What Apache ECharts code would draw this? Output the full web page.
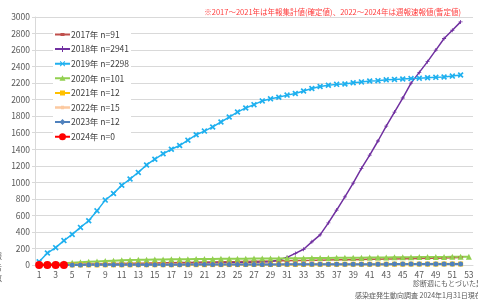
<!DOCTYPE html>
<html>
<head>
<meta charset="UTF-8">
<title>chart</title>
<style>
  html, body { margin: 0; padding: 0; background: #fff; }
  #chart { width: 478px; height: 301px; }
</style>
</head>
<body>
<div id="chart"></div>
<script src="https://cdn.jsdelivr.net/npm/echarts@6/dist/echarts.min.js"></script>
<script>
var weeks = ['1','2','3','4','5','6','7','8','9','10','11','12','13','14','15','16','17','18','19','20',
  '21','22','23','24','25','26','27','28','29','30','31','32','33','34','35','36','37','38','39','40',
  '41','42','43','44','45','46','47','48','49','50','51','52','53'];

var y2017 = [2,3,5,7,8,10,12,13,15,17, 18,20,22,23,25,27,28,30,31,33,
  35,36,38,40,41,43,45,46,48,50, 51,53,55,56,58,60,62,63,65,67,
  69,70,72,74,76,77,79,81,83,85, 88,91];
var y2018 = [1,2,3,4,5,6,7,8,9,10, 11,12,13,14,15,16,17,18,19,20,
  21,23,25,27,29,31,33,36,40,60, 93,140,190,280,365,510,665,825,990,1170,
  1330,1500,1680,1850,2020,2200,2330,2460,2600,2740, 2840,2941];
var y2019 = [40,145,210,295,370,455,535,655,785,865, 965,1040,1120,1210,1280,1345,1400,1445,1510,1575,
  1620,1670,1730,1790,1850,1900,1940,1985,2010,2030, 2055,2075,2105,2135,2160,2175,2185,2190,2205,2215,
  2225,2230,2240,2245,2250,2255,2260,2265,2270,2275, 2285,2298];
var y2020 = [5,10,15,20,26,32,38,43,48,52, 56,59,62,64,66,68,69,70,71,72,
  73,74,75,75,76,77,78,78,79,80, 81,82,83,84,85,86,87,88,88,89,
  90,91,92,93,94,95,96,96,97,98, 99,100,101];
var y2021 = [0,0,0,1,1,1,1,1,2,2, 2,2,3,3,3,3,3,4,4,4,
  4,5,5,5,5,6,6,6,6,7, 7,7,7,8,8,8,8,9,9,9,
  9,10,10,10,10,11,11,11,11,12, 12,12];
var y2022 = [0,1,1,1,1,2,2,2,3,3, 3,3,4,4,4,5,5,5,5,6,
  6,6,7,7,7,7,8,8,8,9, 9,9,9,10,10,10,11,11,11,11,
  12,12,12,13,13,13,13,14,14,14, 15,15];
var y2023 = [0,0,1,1,1,1,2,2,2,2, 3,3,3,3,4,4,4,4,5,5,
  5,5,6,6,6,6,7,7,7,7, 8,8,8,8,9,9,9,9,10,10,
  10,10,10,11,11,11,11,11,12,12, 12,12];
var y2024 = [0,0,0,0];

var names = ['2017年 n=91','2018年 n=2941','2019年 n=2298','2020年 n=101','2021年 n=12','2022年 n=15','2023年 n=12','2024年 n=0'];

var font = '"Noto Sans CJK JP", "Noto Sans", sans-serif';
var plusPath = 'path://M2,0H3V2H5V3H3V5H2V3H0V2H2Z';
var crossPath = 'path://M0,1L1,0L2.5,1.5L4,0L5,1L3.5,2.5L5,4L4,5L2.5,3.5L1,5L0,4L1.5,2.5Z';

// legend icons: line + marker in a 15x9 box
var ln = 'M0,0M15,9M0,3.5H15V5.5H0Z';
var icons = [
  'path://' + ln + 'M5.5,3H9.5V6H5.5Z',
  'path://' + ln + 'M7,1.5H8V7.5H7Z',
  'path://' + ln + 'M4.8,2.5L5.5,1.8L10.2,6.5L9.5,7.2ZM9.5,1.8L10.2,2.5L5.5,7.2L4.8,6.5Z',
  'path://' + ln + 'M7.5,1.5L10.5,7H4.5Z',
  'path://' + ln + 'M5,2H10V7H5Z',
  'path://' + 'M0,0M15,9M0,3.2H15V5.8H0Z' + 'M6,2.8H9V6.2H6Z',
  'path://' + ln + 'M7.5,1.5L10.5,4.5L7.5,7.5L4.5,4.5Z',
  'path://' + ln + 'M4,4.5A3.5,3.5,0,1,1,11,4.5A3.5,3.5,0,1,1,4,4.5Z'
];
var legendData = [];
for (var i = 0; i < names.length; i++) {
  legendData.push({ name: names[i], icon: icons[i] });
}

function mk(name, data, color, symbol, size, width){
  return {
    name: name, type: 'line', data: data,
    symbol: symbol, symbolSize: size, showSymbol: true, showAllSymbol: true,
    lineStyle: { color: color, width: width },
    itemStyle: { color: color, borderWidth: 0 },
    emphasis: { disabled: true }
  };
}

var chart = echarts.init(document.getElementById('chart'));
chart.setOption({
  animation: false,
  grid: { left: 35, right: 5, top: 17, bottom: 36 },
  legend: {
    orient: 'vertical', left: 53, top: 28,
    itemWidth: 15, itemHeight: 9, itemGap: 5.6,
    backgroundColor: '#fff', padding: [2, 2, 2, 2],
    textStyle: { fontFamily: font, fontSize: 8.5, color: '#404040', lineHeight: 9, padding: [0, 0, 0, -4] },
    data: legendData
  },
  graphic: [
    { type: 'text', right: 17, top: 8, style: { text: '※2017～2021年は年報集計値(確定値)、2022～2024年は週報速報値(暫定値)', font: '7.5px ' + font, fill: '#ff3b3b' } },
    { type: 'text', left: 413, top: 280, style: { text: '診断週にもとづいた累積', font: '7px ' + font, fill: '#595959' } },
    { type: 'text', left: 355, top: 292, style: { text: '感染症発生動向調査 2024年1月31日現在', font: '7px ' + font, fill: '#595959' } },
    { type: 'text', left: -6, top: 250, style: { text: '報\n告\n数', font: '8px ' + font, fill: '#595959', lineHeight: 11 } }
  ],
  xAxis: {
    type: 'category', data: weeks, boundaryGap: true,
    axisLine: { lineStyle: { color: '#d9d9d9', width: 1 } },
    axisTick: { show: false },
    axisLabel: { interval: 1, fontFamily: font, fontSize: 8.5, color: '#595959', margin: 6 }
  },
  yAxis: {
    type: 'value', min: 0, max: 3000, interval: 200,
    axisLine: { show: true, lineStyle: { color: '#d9d9d9' } },
    axisTick: { show: true, length: 3, lineStyle: { color: '#d9d9d9' } },
    axisLabel: { fontFamily: font, fontSize: 8.5, color: '#595959', margin: 5, formatter: function (v) { return String(v); } },
    splitLine: { lineStyle: { color: '#d9d9d9', width: 1 } }
  },
  series: [
    mk(names[0], y2017, '#c0504d', 'rect', [5, 2], 1.5),
    mk(names[1], y2018, '#7030a0', plusPath, 4, 1.5),
    mk(names[2], y2019, '#1fb0ef', crossPath, 6, 1.5),
    mk(names[3], y2020, '#92d050', 'triangle', 6, 2),
    mk(names[4], y2021, '#ffc000', 'rect', 5, 2),
    mk(names[5], y2022, '#fcc9a0', 'circle', 3, 2),
    mk(names[6], y2023, '#4f81bd', 'circle', 5, 2),
    mk(names[7], y2024, '#ff0000', 'circle', 8, 2)
  ]
});
</script>
</body>
</html>
